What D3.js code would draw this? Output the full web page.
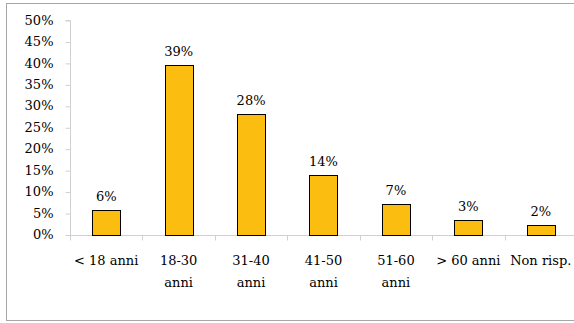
<!DOCTYPE html>
<html>
<head>
<meta charset="utf-8">
<script src="https://d3js.org/d3.v7.min.js"></script>
<style>
  body { margin: 0; background: #fff; }
  svg { display: block; }
  .frame { fill: #fff; stroke: #a6a6a6; stroke-width: 1; }
  .axis text { font-family: "DejaVu Serif", serif; font-size: 13px; fill: #000; }
  .axis path, .axis line { stroke: #d0d0d0; }
  .bar { fill: #fbbd10; stroke: #000; stroke-width: 1; }
  .val { font-family: "DejaVu Serif", serif; font-size: 13px; fill: #000; text-anchor: middle; }
</style>
</head>
<body>
<script>
  var categories = ["< 18 anni", "18-30 anni", "31-40 anni", "41-50 anni", "51-60 anni", "> 60 anni", "Non risp."];
  var values = [5.7, 39.4, 28.1, 13.8, 7.2, 3.3, 2.2];
  var valueLabels = ["6%", "39%", "28%", "14%", "7%", "3%", "2%"];
  var yTicks = [0, 5, 10, 15, 20, 25, 30, 35, 40, 45, 50];

  var W = 574, H = 323;
  var plotLeft = 70, plotRight = 577, plotTop = 20, plotBottom = 234.5;

  var svg = d3.select("body").append("svg")
    .attr("width", W)
    .attr("height", H);

  svg.append("rect")
    .attr("class", "frame")
    .attr("x", 6.5).attr("y", 3.5)
    .attr("width", W + 10).attr("height", 317);

  var slot = d3.scaleBand().domain(categories).range([plotLeft, plotRight]).padding(0);
  var x = d3.scaleBand().domain(categories).range([plotLeft, plotRight])
    .paddingInner(0.61).paddingOuter(0.305);
  var y = d3.scaleLinear().domain([0, 50]).range([plotBottom, plotTop]);

  // y axis
  var yAxis = svg.append("g")
    .attr("class", "axis y")
    .attr("transform", "translate(" + (plotLeft + 0.5) + ",0)")
    .call(d3.axisLeft(y).tickValues(yTicks).tickSize(5).tickPadding(12)
      .tickFormat(function(d) { return d + "%"; }));
  yAxis.select(".domain").attr("d", "M-5," + (y(50) + 0.5) + "H0V" + (y(0) + 0.5));
  yAxis.selectAll(".tick line").attr("transform", "translate(0,0.5)");

  // x axis line and ticks at category boundaries
  var xg = svg.append("g").attr("class", "axis x");
  xg.append("line")
    .attr("x1", plotLeft).attr("x2", W)
    .attr("y1", Math.round(y(0)) + 0.5).attr("y2", Math.round(y(0)) + 0.5);
  var bounds = categories.map(function(d) { return slot(d); });
  xg.selectAll(".tk").data(bounds).enter().append("line")
    .attr("class", "tk")
    .attr("x1", function(d) { return Math.round(d) + 0.5; })
    .attr("x2", function(d) { return Math.round(d) + 0.5; })
    .attr("y1", Math.round(y(0)) + 0.5)
    .attr("y2", Math.round(y(0)) + 5.5);

  // category labels, wrapped
  var lab = xg.selectAll(".cat").data(categories).enter().append("text")
    .attr("class", "cat")
    .attr("text-anchor", "middle")
    .attr("x", function(d) { return slot(d) + slot.bandwidth() / 2; })
    .attr("y", 265);
  lab.each(function(d) {
    var t = d3.select(this);
    t.text(d);
    if (this.getComputedTextLength() > 66) {
      var parts = d.split(" ");
      var xx = t.attr("x");
      t.text(null);
      t.append("tspan").attr("x", xx).attr("dy", 0).text(parts[0]);
      t.append("tspan").attr("x", xx).attr("dy", 22).text(parts.slice(1).join(" "));
    }
  });

  // bars
  svg.selectAll(".bar").data(values).enter().append("rect")
    .attr("class", "bar")
    .attr("x", function(d, i) { return Math.round(x(categories[i])) + 0.5; })
    .attr("width", Math.round(x.bandwidth()))
    .attr("y", function(d) { return Math.round(y(d)) + 0.5; })
    .attr("height", function(d) { return Math.round(y(0)) - Math.round(y(d)); });

  // value labels
  svg.selectAll(".val").data(values).enter().append("text")
    .attr("class", "val")
    .attr("x", function(d, i) { return x(categories[i]) + x.bandwidth() / 2; })
    .attr("y", function(d) { return y(d) - 9; })
    .text(function(d, i) { return valueLabels[i]; });
</script>
</body>
</html>
